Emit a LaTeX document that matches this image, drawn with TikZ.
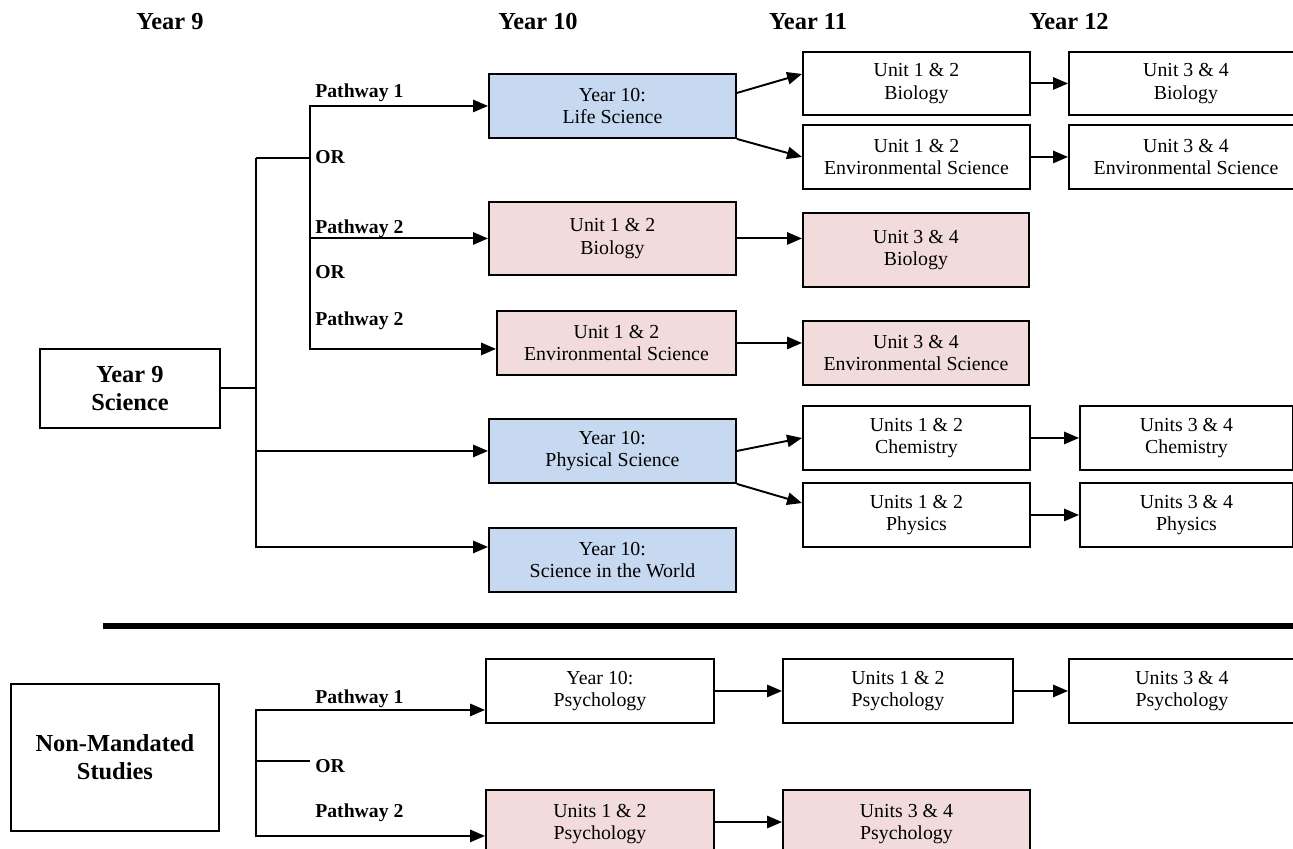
\documentclass[tikz,border=0pt]{standalone}
\usepackage{fontspec}
\setmainfont{Liberation Serif}
\usetikzlibrary{arrows.meta, positioning, calc}
\definecolor{yearblue}{HTML}{C6D9F1}
\definecolor{unitpink}{HTML}{F2DCDB}
\tikzset{
  block/.style={
    rectangle,
    draw,
    line width=1.1pt,
    align=center,
    anchor=north west,
    minimum width=4.54cm,
    minimum height=1.28cm,
    inner sep=2pt,
    font=\fontsize{11.3pt}{13pt}\selectfont
  },
  yearblock/.style={block, fill=yearblue, minimum width=4.94cm},
  unitblock/.style={block, fill=unitpink},
  startblock/.style={block, font=\bfseries\fontsize{13.9pt}{15.9pt}\selectfont},
  heading/.style={anchor=base, font=\bfseries\fontsize{13.9pt}{16pt}\selectfont},
  pathlabel/.style={anchor=base west, inner sep=0pt, font=\bfseries\fontsize{11.2pt}{13pt}\selectfont},
  arrow/.style={-{Triangle[length=8.5pt, width=7pt]}, line width=1.1pt},
  link/.style={line width=1.1pt}
}

\begin{document}
\begin{tikzpicture}[x=0.02cm, y=-0.02cm]
  \useasboundingbox (0,0) rectangle (1293,848);

  % column headings
  \node[heading] (h9) at (170,30) {Year 9};
  \node[heading] (h10) at (538,30) {Year 10};
  \node[heading] (h11) at (808,30) {Year 11};
  \node[heading] (h12) at (1069,30) {Year 12};

  % science pathways
  \node[startblock, minimum width=3.6cm, minimum height=1.58cm] (sci9) at (39,348) {Year 9\\Science};

  \node[yearblock] (life) at (488,73) {Year 10:\\Life Science};
  \node[block, minimum height=1.26cm] (bioA) at (802,51) {Unit 1 \& 2\\Biology};
  \node[block, minimum width=4.68cm, minimum height=1.26cm] (bioB) at (1068,51) {Unit 3 \& 4\\Biology};
  \node[block] (envA) at (802,124) {Unit 1 \& 2\\Environmental Science};
  \node[block, minimum width=4.68cm] (envB) at (1068,124) {Unit 3 \& 4\\Environmental Science};

  \node[unitblock, minimum width=4.94cm, minimum height=1.46cm] (pbioA) at (488,201) {Unit 1 \& 2\\Biology};
  \node[unitblock, minimum width=4.52cm, minimum height=1.48cm] (pbioB) at (802,212) {Unit 3 \& 4\\Biology};
  \node[unitblock, minimum width=4.78cm] (penvA) at (496,310) {Unit 1 \& 2\\Environmental Science};
  \node[unitblock, minimum width=4.52cm] (penvB) at (802,320) {Unit 3 \& 4\\Environmental Science};

  \node[yearblock] (phys) at (488,418) {Year 10:\\Physical Science};
  \node[block] (chemA) at (802,405) {Units 1 \& 2\\Chemistry};
  \node[block, minimum width=4.26cm] (chemB) at (1079,405) {Units 3 \& 4\\Chemistry};
  \node[block] (phyA) at (802,482) {Units 1 \& 2\\Physics};
  \node[block, minimum width=4.26cm] (phyB) at (1079,482) {Units 3 \& 4\\Physics};

  \node[yearblock] (world) at (488,527) {Year 10:\\Science in the World};

  % pathway labels
  \node[pathlabel] (p1) at (315,97) {Pathway 1};
  \node[pathlabel] (or1) at (315,163) {OR};
  \node[pathlabel] (p2) at (315,233) {Pathway 2};
  \node[pathlabel] (or2) at (315,278) {OR};
  \node[pathlabel] (p3) at (315,325) {Pathway 2};

  \coordinate (fork) at (256,158);
  \coordinate (orfork) at (310,158);

  \draw[link] (sci9.east) -- (sci9.east -| fork);
  \draw[link] (fork) -- (orfork);
  \draw[arrow] (fork) |- ([yshift=7.4pt]world.west);
  \draw[arrow] (phys.west -| fork) -- (phys.west);
  \draw[arrow] (orfork) |- (life.west);
  \draw[arrow] (orfork) |- (pbioA.west);
  \draw[arrow] (orfork) |- ([yshift=-3.4pt]penvA.west);

  \draw[arrow] ([yshift=7.4pt]life.east) -- ([yshift=5.4pt]bioA.west);
  \draw[arrow] (life.south east) -- (envA.west);
  \draw[arrow] (bioA) -- (bioB);
  \draw[arrow] (envA) -- (envB);
  \draw[arrow] (pbioA.east) -- (pbioA.east -| pbioB.west);
  \draw[arrow] (penvA.east) -- (penvA.east -| penvB.west);
  \draw[arrow] (phys.east) -- (chemA.west);
  \draw[arrow] (phys.south east) -- ([yshift=6.8pt]phyA.west);
  \draw[arrow] (chemA) -- (chemB);
  \draw[arrow] (phyA) -- (phyB);

  % divider
  \draw[line width=3.4pt] (103,626) -- (1293,626);

  % non-mandated studies
  \node[startblock, minimum width=4.16cm, minimum height=2.94cm] (nonmand) at (10,683) {Non-Mandated\\Studies};
  \node[block, minimum width=4.56cm] (psyX) at (485,658) {Year 10:\\Psychology};
  \node[block, minimum width=4.6cm] (psyA) at (782,658) {Units 1 \& 2\\Psychology};
  \node[block, minimum width=4.52cm] (psyB) at (1068,658) {Units 3 \& 4\\Psychology};
  \node[unitblock, minimum width=4.56cm, minimum height=1.36cm] (ppsyA) at (485,789) {Units 1 \& 2\\Psychology};
  \node[unitblock, minimum width=4.94cm, minimum height=1.36cm] (ppsyB) at (782,789) {Units 3 \& 4\\Psychology};

  \node[pathlabel] (p4) at (315,703) {Pathway 1};
  \node[pathlabel] (or3) at (315,772) {OR};
  \node[pathlabel] (p5) at (315,817) {Pathway 2};

  \coordinate (nmfork) at (256,761);
  \coordinate (nmor) at (310,761);

  \draw[link] (nmfork) -- (nmor);
  \draw[arrow] (nmfork) |- ([yshift=-10.8pt]psyX.west);
  \draw[arrow] (nmfork) |- ([yshift=-6.8pt]ppsyA.west);
  \draw[arrow] (psyX) -- (psyA);
  \draw[arrow] (psyA) -- (psyB);
  \draw[arrow] ([yshift=1.1pt]ppsyA.east) -- ([yshift=1.1pt]ppsyB.west);
\end{tikzpicture}
\end{document}
